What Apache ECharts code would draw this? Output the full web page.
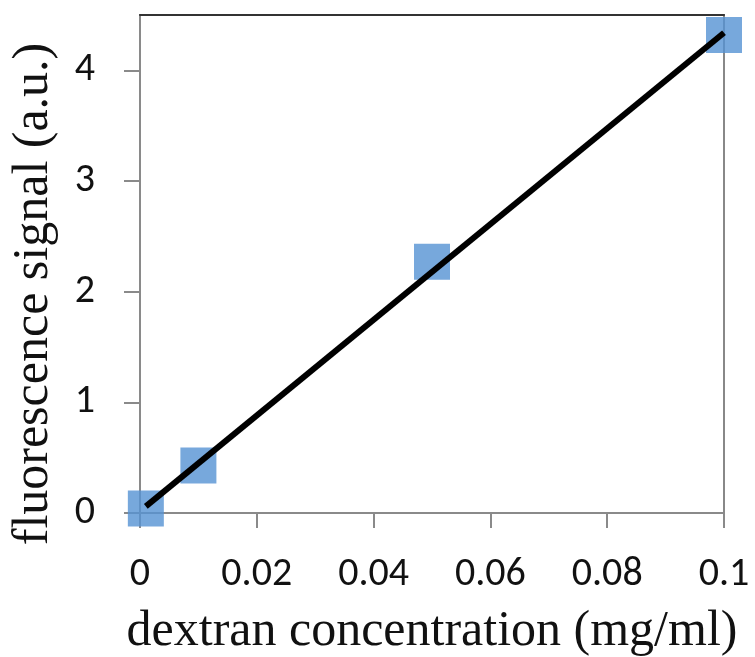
<!DOCTYPE html>
<html>
<head>
<meta charset="utf-8">
<script src="https://cdn.jsdelivr.net/npm/echarts@6/dist/echarts.min.js"></script>
<style>
html,body{margin:0;padding:0;background:#fff;}
#chart{width:755px;height:657px;}
</style>
</head>
<body>
<div id="chart"></div>
<script>
// Data
const concentration = [0.001, 0.01, 0.05, 0.1];      // mg/ml
const signal = [0.04, 0.43, 2.27, 4.32];              // a.u.
const trendX = [0.001, 0.1];
const trendY = [0.06, 4.34];
const xTicks = [0, 0.02, 0.04, 0.06, 0.08, 0.1];
const yTicks = [0, 1, 2, 3, 4];
const xTitle = 'dextran concentration (mg/ml)';
const yTitle = 'fluorescence signal (a.u.)';

const chart = echarts.init(document.getElementById('chart'), null, {renderer: 'canvas'});
const tickFont = {fontFamily: 'Carlito, Lato, sans-serif', fontSize: 40, color: '#111'};
const gridL = 140, gridR = 31, gridT = 15, gridB = 144;

chart.setOption({
  animation: false,
  backgroundColor: '#fff',
  grid: {left: gridL, right: gridR, top: gridT, bottom: gridB, show: true, borderColor: '#888', borderWidth: 2,
         containLabel: false, outerBoundsMode: 'none'},
  xAxis: [{
    type: 'value', min: 0, max: 0.1, interval: 0.02,
    axisLine: {show: true, lineStyle: {color: '#8a8a8a', width: 2}},
    axisTick: {show: true, length: 15, customValues: xTicks, lineStyle: {color: '#8a8a8a', width: 2}},
    splitLine: {show: false},
    axisLabel: Object.assign({margin: 42, customValues: xTicks, formatter: v => String(+v.toFixed(2))}, tickFont),
    name: xTitle, nameLocation: 'middle', nameGap: 94,
    nameTextStyle: {fontFamily: '"Liberation Serif", "Times New Roman", serif', fontSize: 50, color: '#111'}
  }, {
    type: 'value', min: 0, max: 0.1, position: 'top',
    axisLine: {show: true, lineStyle: {color: '#333', width: 2}},
    axisTick: {show: false}, axisLabel: {show: false}, splitLine: {show: false}
  }],
  yAxis: {
    type: 'value', min: 0, max: 4.5, interval: 1,
    axisLine: {show: true, lineStyle: {color: '#8a8a8a', width: 2}},
    axisTick: {show: true, length: 16, customValues: yTicks, lineStyle: {color: '#8a8a8a', width: 2}},
    splitLine: {show: false},
    axisLabel: Object.assign({margin: 45, customValues: yTicks, formatter: v => String(v)}, tickFont)
  },
  graphic: [{
    type: 'text',
    x: 34, y: 294,
    rotation: Math.PI / 2,
    style: {
      text: yTitle,
      fontFamily: '"Liberation Serif", "Times New Roman", serif',
      fontSize: 50, fill: '#111',
      align: 'center', verticalAlign: 'middle'
    }
  }],
  series: [{
    type: 'scatter',
    data: concentration.map((x, i) => [x, signal[i]]),
    symbol: 'rect', symbolSize: 36,
    itemStyle: {color: '#5592d3'},
    z: 2
  }, {
    type: 'line',
    data: trendX.map((x, i) => [x, trendY[i]]),
    showSymbol: false, symbol: 'none',
    lineStyle: {color: '#000', width: 6},
    z: 3
  }]
});
</script>
</body>
</html>
